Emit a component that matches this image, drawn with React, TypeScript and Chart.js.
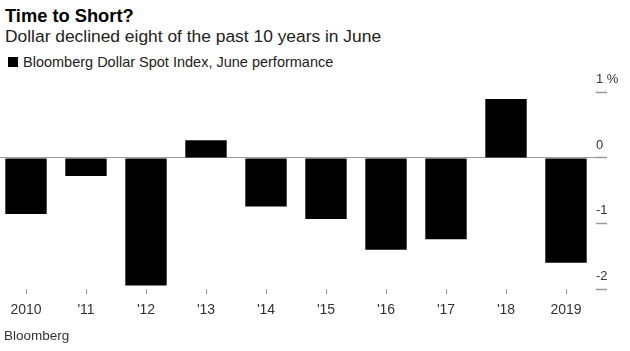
import React, { useEffect, useRef } from "react";
import { Chart, registerables } from "chart.js";

Chart.register(...registerables);

const titleText = "Time to Short?";
const subtitleText = "Dollar declined eight of the past 10 years in June";
const seriesLabel = "Bloomberg Dollar Spot Index, June performance";
const sourceText = "Bloomberg";

const categories = ["2010", "'11", "'12", "'13", "'14", "'15", "'16", "'17", "'18", "2019"];
const juneChange = [-0.855, -0.275, -1.945, 0.27, -0.74, -0.93, -1.4, -1.24, 0.9, -1.6];
const yTickValues = [-2, -1, 0, 1];
const yTickLabels = ["-2", "-1", "0", "1 %"];

const FONT = "'Liberation Sans', Arial, Helvetica, sans-serif";

export default function App() {
  const ref = useRef<HTMLCanvasElement | null>(null);

  useEffect(() => {
    if (!ref.current) return;
    const chart = new Chart(ref.current, {
      type: "bar",
      data: {
        labels: categories,
        datasets: [
          {
            label: seriesLabel,
            data: juneChange,
            backgroundColor: "#000000",
            borderWidth: 0,
            categoryPercentage: 1,
            barPercentage: 0.69,
          },
        ],
      },
      options: {
        animation: false,
        responsive: false,
        devicePixelRatio: 1,
        layout: { padding: { top: 20, left: 0, right: 0, bottom: 0 } },
        plugins: {
          legend: { display: false },
          tooltip: { enabled: false },
          title: { display: false },
        },
        scales: {
          x: {
            offset: true,
            border: { display: false },
            grid: {
              display: true,
              offset: false,
              drawOnChartArea: false,
              drawTicks: true,
              tickLength: 5,
              tickColor: "#9a9a9a",
              tickWidth: 1,
            },
            ticks: {
              color: "#333333",
              font: { family: FONT, size: 14 },
              padding: 8,
              maxRotation: 0,
              autoSkip: false,
            },
            afterFit: (scale: any) => {
              scale.height = 43;
            },
          },
          y: {
            position: "right",
            min: -2,
            max: 1.16,
            border: { display: false },
            afterBuildTicks: (scale: any) => {
              scale.ticks = yTickValues.map((v) => ({ value: v }));
            },
            grid: {
              display: true,
              drawOnChartArea: true,
              drawTicks: true,
              tickLength: 11,
              color: (ctx: any) => (ctx.tick && ctx.tick.value === 0 ? "#9a9a9a" : "rgba(0,0,0,0)"),
              tickColor: "#9a9a9a",
              lineWidth: 1,
              tickWidth: 1.5,
            },
            ticks: {
              color: "#333333",
              font: { family: FONT, size: 13 },
              padding: -11,
              labelOffset: -13,
              callback: (value: any) => {
                const i = yTickValues.indexOf(Number(value));
                return i >= 0 ? yTickLabels[i] : "";
              },
            },
            afterFit: (scale: any) => {
              scale.width = 38;
            },
          },
        },
      },
    });
    return () => chart.destroy();
  }, []);

  return (
    <div
      style={{
        position: "absolute",
        left: 0,
        top: 0,
        width: 630,
        height: 351,
        overflow: "hidden",
        background: "#ffffff",
        fontFamily: FONT,
      }}
    >
      <div
        style={{
          position: "absolute",
          left: 5,
          top: 7,
          fontSize: 18.3,
          lineHeight: 1,
          fontWeight: "bold",
          color: "#000",
          whiteSpace: "nowrap",
        }}
      >
        {titleText}
      </div>
      <div
        style={{
          position: "absolute",
          left: 5,
          top: 28,
          fontSize: 17.4,
          lineHeight: 1,
          color: "#222",
          whiteSpace: "nowrap",
        }}
      >
        {subtitleText}
      </div>
      <div
        style={{
          position: "absolute",
          left: 8,
          top: 57,
          width: 10,
          height: 10,
          background: "#000",
        }}
      />
      <div
        style={{
          position: "absolute",
          left: 23,
          top: 54.5,
          fontSize: 14.5,
          lineHeight: 1,
          color: "#222",
          whiteSpace: "nowrap",
        }}
      >
        {seriesLabel}
      </div>
      <canvas
        ref={ref}
        width={638}
        height={270}
        style={{ position: "absolute", left: -4, top: 62, width: 638, height: 270 }}
      />
      <div
        style={{
          position: "absolute",
          left: 4,
          top: 328.6,
          fontSize: 13.5,
          lineHeight: 1,
          color: "#333",
          whiteSpace: "nowrap",
        }}
      >
        {sourceText}
      </div>
    </div>
  );
}
